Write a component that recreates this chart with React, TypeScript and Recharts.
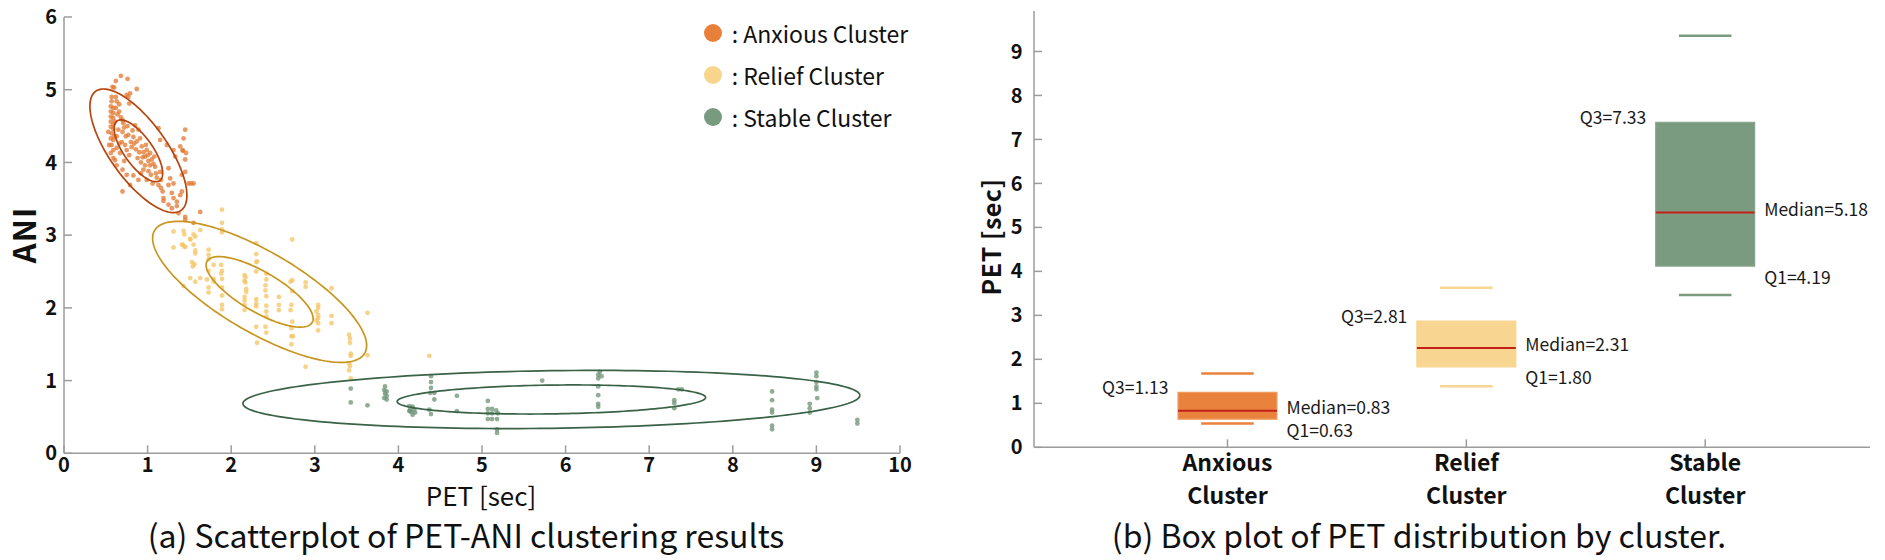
import React from "react";
import {
  ScatterChart,
  Scatter,
  XAxis,
  YAxis,
  ComposedChart,
  ReferenceArea,
  ReferenceLine,
} from "recharts";

const FONT = '"Noto Sans CJK KR", "Noto Sans", sans-serif';

// ---------- Panel (a): scatter of PET vs ANI ----------
const petTicks = [0, 1, 2, 3, 4, 5, 6, 7, 8, 9, 10];
const aniTicks = [0, 1, 2, 3, 4, 5, 6];

const clusterNames = ["Anxious Cluster", "Relief Cluster", "Stable Cluster"];

const anxiousPoints: [number, number][] = [
  [0.68, 5.19], [0.62, 5.12], [0.76, 5.15], [0.87, 5.01], [0.58, 5.04], [0.6, 5.03], [0.75, 4.93], [0.79, 4.95], [0.77, 4.9], [0.78, 4.81],
  [0.57, 4.9], [0.57, 4.84], [0.56, 4.77], [0.59, 4.75], [0.56, 4.7], [0.59, 4.68], [0.56, 4.63], [0.59, 4.61], [0.56, 4.56], [0.59, 4.52],
  [0.56, 4.49], [0.59, 4.46], [0.57, 4.4], [0.56, 4.33], [0.59, 4.31], [0.57, 4.24], [0.59, 4.17], [0.56, 4.13], [0.59, 4.06],
  [0.63, 4.84], [0.62, 4.75], [0.64, 4.66], [0.61, 4.56], [0.65, 4.45], [0.63, 4.36], [0.63, 4.2],
  [0.7, 4.58], [0.7, 4.42], [0.71, 4.54], [0.69, 4.28], [0.73, 4.24], [0.77, 4.38], [0.8, 4.28], [0.83, 4.35], [0.81, 4.21],
  [0.75, 4.17], [0.78, 4.1], [0.85, 4.51], [0.89, 4.45], [0.87, 4.29], [0.91, 4.33], [0.93, 4.22], [0.9, 4.14], [0.95, 4.14], [0.99, 4.17], [0.97, 4.08],
  [1.03, 4.13], [1.01, 4.02], [1.05, 4.04], [0.97, 3.96], [1.03, 3.96], [0.95, 3.9], [1.01, 3.88], [1.09, 3.94],
  [1.04, 3.83], [1.1, 3.85], [1.11, 3.79], [0.92, 3.85], [0.89, 3.76], [0.83, 3.82], [0.75, 3.83], [0.7, 3.9], [0.63, 3.96],
  [0.7, 3.6], [0.79, 3.69], [1.15, 3.87], [1.16, 3.76], [1.13, 3.69], [1.16, 3.65], [1.18, 3.6], [1.25, 3.92], [1.27, 3.78],
  [1.25, 3.69], [1.31, 3.71], [1.29, 3.58], [1.31, 3.51], [1.19, 3.51], [1.19, 3.47], [1.25, 3.42], [1.29, 3.37], [1.35, 3.46], [1.35, 3.4],
  [1.39, 3.55], [1.41, 3.6], [1.31, 4.17], [1.33, 4.08], [1.39, 4.22], [1.42, 4.16], [1.43, 4.33], [1.45, 4.45], [1.46, 4.13], [1.45, 4.04],
  [1.49, 3.71], [1.55, 3.71], [1.41, 3.83], [1.45, 3.87], [1.63, 3.32], [1.45, 3.25], [1.45, 3.21], [1.37, 3.3], [1.55, 3.17],
  [1.13, 4.47], [1.15, 4.31], [1.23, 4.24], [0.67, 4.13], [0.61, 4.03], [0.53, 4.42], [0.54, 4.24], [0.99, 3.76], [1.06, 3.71],
  [0.66, 4.7], [0.68, 4.62], [0.72, 4.48], [0.74, 4.36], [0.76, 4.5], [0.82, 4.44], [0.84, 4.26], [0.86, 4.18], [0.88, 4.06], [0.92, 4.0],
  [0.94, 4.07], [0.98, 4.24], [1.0, 4.1], [1.07, 3.98], [1.08, 4.08], [0.6, 4.36], [0.66, 4.26], [0.72, 4.02], [0.62, 4.9], [0.66, 4.8],
  [1.42, 4.17], [1.52, 3.71],
];

const reliefPoints: [number, number][] = [
  [1.89, 3.35], [1.89, 3.17], [1.89, 3.08], [1.89, 3.04], [1.31, 3.05], [1.43, 3.06], [1.44, 3.01], [1.55, 3.01], [1.57, 2.98], [1.63, 3.07],
  [1.31, 2.83], [1.41, 2.87], [1.44, 2.84], [1.51, 2.94], [1.55, 2.87], [1.57, 2.79], [1.57, 2.75], [1.73, 2.8], [1.73, 2.73], [1.73, 2.67],
  [1.53, 2.63], [1.56, 2.6], [1.54, 2.57], [1.79, 2.59], [1.73, 2.51], [1.88, 2.59], [1.89, 2.51], [1.88, 2.47], [1.51, 2.41], [1.57, 2.36],
  [1.63, 2.41], [1.71, 2.39], [1.79, 2.4], [1.79, 2.36], [1.73, 2.28], [1.73, 2.21], [1.43, 2.3], [1.89, 2.4], [1.89, 2.28], [1.89, 2.17],
  [1.89, 2.04], [1.89, 1.98], [2.3, 2.89], [2.3, 2.74], [2.3, 2.63], [2.3, 2.5], [2.16, 2.45], [2.17, 2.42], [2.16, 2.37], [2.17, 2.35],
  [2.18, 2.26], [2.18, 2.22], [2.16, 2.15], [2.16, 2.1], [2.16, 2.04], [2.16, 1.97], [2.42, 2.47], [2.42, 2.39], [2.41, 2.31], [2.41, 2.24],
  [2.42, 2.16], [2.3, 2.12], [2.3, 2.06], [2.3, 2.02], [2.42, 2.03], [2.42, 1.95], [2.42, 1.88], [2.3, 1.74], [2.41, 1.74], [2.42, 1.66],
  [2.31, 1.52], [2.57, 2.15], [2.57, 2.04], [2.57, 1.97], [2.73, 2.94], [2.73, 2.38], [2.71, 2.36], [2.73, 2.23], [2.72, 2.04], [2.71, 1.97],
  [2.73, 1.81], [2.72, 1.72], [2.72, 1.61], [2.74, 1.61], [2.72, 1.5], [2.89, 2.35], [2.89, 2.29], [3.04, 2.04], [3.04, 2.0], [3.02, 1.95],
  [3.04, 1.9], [3.04, 1.86], [3.02, 1.83], [3.04, 1.79], [3.04, 1.69], [3.2, 2.27], [3.2, 1.89], [3.2, 1.79], [3.63, 1.93], [3.41, 1.63],
  [3.42, 1.58], [3.42, 1.52], [3.43, 1.37], [3.43, 1.34], [3.63, 1.35], [3.41, 1.24], [3.42, 1.2], [2.89, 1.19], [3.41, 1.14], [3.43, 1.03],
  [4.37, 1.34], [1.42, 2.87], [1.45, 2.84], [1.51, 2.95], [2.31, 2.64],
];

const stablePoints: [number, number][] = [
  [3.43, 0.89], [3.43, 0.7], [3.63, 0.66], [3.84, 0.92], [3.83, 0.87], [3.86, 0.85], [3.84, 0.82], [3.86, 0.79], [3.83, 0.76], [3.86, 0.74],
  [4.39, 1.06], [4.39, 0.98], [4.39, 0.9], [4.38, 0.83], [4.43, 0.83], [4.43, 0.74], [4.37, 0.6], [4.39, 0.54],
  [4.13, 0.65], [4.17, 0.64], [4.14, 0.6], [4.19, 0.6], [4.15, 0.57], [4.2, 0.56], [4.17, 0.53], [4.13, 0.58],
  [4.7, 0.79], [4.7, 0.58], [5.07, 0.72], [5.07, 0.61], [5.12, 0.61], [5.17, 0.59], [5.19, 0.55], [5.07, 0.55], [5.12, 0.55], [5.07, 0.47], [5.12, 0.47], [5.18, 0.47],
  [5.18, 0.33], [5.18, 0.28], [5.72, 1.0],
  [6.41, 1.12], [6.39, 1.08], [6.43, 1.06], [6.39, 1.03], [6.39, 0.92], [6.39, 0.8], [6.39, 0.68], [6.39, 0.64],
  [7.35, 0.88], [7.39, 0.88], [7.3, 0.73], [7.3, 0.69], [7.3, 0.62],
  [8.47, 0.85], [8.47, 0.73], [8.47, 0.6], [8.47, 0.56], [8.47, 0.38], [8.47, 0.33],
  [9.0, 1.11], [9.0, 1.06], [9.0, 0.98], [9.0, 0.92], [9.0, 0.88], [9.01, 0.76], [8.92, 0.68], [8.92, 0.62], [8.92, 0.56], [9.49, 0.46], [9.49, 0.41],
];

// Confidence ellipses: centre, half extents along each axis, correlation
const ellipseCenterPET = [0.89, 2.34, 5.83];
const ellipseCenterANI = [4.16, 2.22, 0.74];
const ellipseHalfPET = [0.58, 1.28, 3.69];
const ellipseHalfANI = [0.85, 0.97, 0.4];
const ellipseRho = [-0.72, -0.76, 0.14];
const ellipseScales = [1, 0.5];

// ---------- Panel (b): box plot ----------
const boxCategories = ["Anxious Cluster", "Relief Cluster", "Stable Cluster"];
const boxPositions = [1, 2, 3];
const boxQ1 = [0.64, 1.83, 4.12];
const boxMedian = [0.83, 2.26, 5.34];
const boxQ3 = [1.25, 2.87, 7.39];
const whiskerLow = [0.54, 1.39, 3.46];
const whiskerHigh = [1.68, 3.63, 9.36];
const q1Labels = ["Q1=0.63", "Q1=1.80", "Q1=4.19"];
const medianLabels = ["Median=0.83", "Median=2.31", "Median=5.18"];
const q3Labels = ["Q3=1.13", "Q3=2.81", "Q3=7.33"];
const boxPetTicks = [0, 1, 2, 3, 4, 5, 6, 7, 8, 9];

// ---------- styles ----------
const pointColors = ["#E2772F", "#F4C463", "#6C9276"];
const legendColors = ["#E8803A", "#F8D48C", "#789A7F"];
const ellipseColors = ["#B6450F", "#C8961F", "#3A6246"];
const boxFill = ["#E8823C", "#F8D590", "#7B9B81"];
const boxEdge = ["#F09A5E", "#F8D590", "#86A48B"];
const MEDIAN_COLOR = "#C4201A";
const AXIS_COLOR = "#9C9C9C";
const BOX_HALF = 0.207;
const CAP_HALF = 0.11;
const ELLIPSE_STEPS = 180;

const toRows = (pts: [number, number][]) => pts.map(([x, y]) => ({ x, y }));

function ellipseOutline(i: number, s: number) {
  const r = ellipseRho[i];
  const q = Math.sqrt(1 - r * r);
  const out: { x: number; y: number }[] = [];
  for (let k = 0; k <= ELLIPSE_STEPS; k++) {
    const t = (2 * Math.PI * k) / ELLIPSE_STEPS;
    out.push({
      x: ellipseCenterPET[i] + s * ellipseHalfPET[i] * Math.cos(t),
      y: ellipseCenterANI[i] + s * ellipseHalfANI[i] * (r * Math.cos(t) + q * Math.sin(t)),
    });
  }
  return out;
}

const clusterRows = [anxiousPoints, reliefPoints, stablePoints].map(toRows);

const boxRows = boxPositions.map((p, i) => ({
  pos: p,
  q1: boxQ1[i],
  med: boxMedian[i],
  q3: boxQ3[i],
  q1Label: q1Labels[i],
  medLabel: medianLabels[i],
  q3Label: q3Labels[i],
}));

const tickStyle = { fontFamily: FONT, fontWeight: 700, fontSize: 20, fill: "#111" };
const labelStyle = { fontFamily: FONT, fontSize: 17.5, fill: "#1a1a1a" };
const LABEL_GAP = 59;

const CategoryTick = (props: any) => {
  const { x, y, payload } = props;
  const idx = boxPositions.indexOf(payload.value);
  if (idx < 0) return <g />;
  const words = boxCategories[idx].split(" ");
  return (
    <text textAnchor="middle" fontFamily={FONT} fontWeight={700} fontSize={23} fill="#111">
      <tspan x={x} y={y + 24}>{words[0]}</tspan>
      <tspan x={x} y={y + 57}>{words[1]}</tspan>
    </text>
  );
};

const abs = (left: number, top: number, extra: React.CSSProperties = {}): React.CSSProperties => ({
  position: "absolute",
  left,
  top,
  whiteSpace: "nowrap",
  lineHeight: 1,
  fontFamily: FONT,
  color: "#111",
  ...extra,
});

export default function App() {
  return (
    <div style={{ position: "absolute", left: 0, top: 0, width: 1885, height: 560, background: "#fff", overflow: "hidden", fontFamily: FONT }}>
      {/* Panel (a) */}
      <div style={{ position: "absolute", left: 0, top: 0 }}>
        <ScatterChart width={940} height={560} margin={{ top: 17, right: 40, bottom: 76.7, left: 0 }}>
          <XAxis
            type="number"
            dataKey="x"
            domain={[0, 10]}
            ticks={petTicks}
            allowDataOverflow
            height={30}
            stroke={AXIS_COLOR}
            strokeWidth={1.5}
            tickSize={-8}
            tickMargin={12}
            tick={tickStyle}
            tickLine={{ stroke: AXIS_COLOR, strokeWidth: 1.5 }}
          />
          <YAxis
            type="number"
            dataKey="y"
            domain={[0, 6]}
            ticks={aniTicks}
            allowDataOverflow
            width={64}
            stroke={AXIS_COLOR}
            strokeWidth={1.5}
            tickSize={-8}
            tickMargin={15}
            tick={tickStyle}
            tickLine={{ stroke: AXIS_COLOR, strokeWidth: 1.5 }}
          />
          {clusterRows.map((rows, i) => (
            <Scatter
              key={"pts" + i}
              name={clusterNames[i]}
              data={rows}
              isAnimationActive={false}
              shape={(p: any) => <circle cx={p.cx} cy={p.cy} r={2.4} fill={pointColors[i]} fillOpacity={0.75} />}
            />
          ))}
          {[0, 1, 2].map((i) =>
            ellipseScales.map((s, j) => (
              <Scatter
                key={"ell" + i + "-" + j}
                data={ellipseOutline(i, s)}
                isAnimationActive={false}
                line={{ stroke: ellipseColors[i], strokeWidth: 1.7 }}
                lineType="joint"
                shape={() => <g />}
              />
            ))
          )}
        </ScatterChart>
      </div>

      {/* Legend (a) */}
      {clusterNames.map((n, i) => (
        <div key={"lg" + i} style={abs(703.7, 33 + 42 * i - 12, { display: "flex", alignItems: "center", height: 24 })}>
          <span style={{ display: "inline-block", width: 18, height: 18, borderRadius: 9, background: legendColors[i] }} />
          <span style={{ fontSize: 23, marginLeft: 10 }}>: {n}</span>
        </div>
      ))}

      {/* Axis titles (a) */}
      <div style={abs(22, 235, { fontSize: 31, fontWeight: 700, letterSpacing: 1, transform: "translate(-50%, -50%) rotate(-90deg)" })}>ANI</div>
      <div style={abs(481, 495, { fontSize: 26, transform: "translate(-50%, -50%)" })}>PET [sec]</div>
      <div style={abs(466, 534, { fontSize: 32, transform: "translate(-50%, -50%)" })}>(a) Scatterplot of PET-ANI clustering results</div>

      {/* Panel (b) */}
      <div style={{ position: "absolute", left: 940, top: 0 }}>
        <ComposedChart width={945} height={560} margin={{ top: 11, right: 15, bottom: 52.7, left: 0 }}>
          <XAxis
            xAxisId={0}
            type="number"
            dataKey="pos"
            domain={[0.19, 3.69]}
            ticks={boxPositions}
            allowDataOverflow
            height={60}
            stroke={AXIS_COLOR}
            strokeWidth={1.5}
            tickSize={-8}
            tickMargin={8}
            tick={<CategoryTick />}
            tickLine={{ stroke: AXIS_COLOR, strokeWidth: 1.5 }}
          />
          <XAxis
            xAxisId="top"
            orientation="top"
            type="number"
            dataKey="pos"
            domain={[0.19, 3.69]}
            ticks={boxPositions}
            allowDataOverflow
            height={0}
            stroke={AXIS_COLOR}
            strokeWidth={1.5}
            tickSize={-8}
            tick={false}
            tickLine={{ stroke: AXIS_COLOR, strokeWidth: 1.5 }}
          />
          <YAxis
            yAxisId={0}
            type="number"
            domain={[0, 9.92]}
            ticks={boxPetTicks}
            allowDataOverflow
            width={94}
            stroke={AXIS_COLOR}
            strokeWidth={1.5}
            tickSize={-8}
            tickMargin={19.5}
            tick={tickStyle}
            tickLine={{ stroke: AXIS_COLOR, strokeWidth: 1.5 }}
          />
          <YAxis
            yAxisId="right"
            orientation="right"
            type="number"
            domain={[0, 9.92]}
            ticks={boxPetTicks}
            allowDataOverflow
            width={0}
            stroke={AXIS_COLOR}
            strokeWidth={1.5}
            tickSize={-8}
            tick={false}
            tickLine={{ stroke: AXIS_COLOR, strokeWidth: 1.5 }}
          />
          {boxPositions.map((p, i) => (
            <ReferenceArea
              key={"box" + i}
              x1={p - BOX_HALF}
              x2={p + BOX_HALF}
              y1={boxQ1[i]}
              y2={boxQ3[i]}
              fill={boxFill[i]}
              fillOpacity={1}
              stroke={boxEdge[i]}
              strokeWidth={1.2}
              ifOverflow="visible"
            />
          ))}
          {boxPositions.map((p, i) => (
            <ReferenceLine
              key={"hi" + i}
              segment={[{ x: p - CAP_HALF, y: whiskerHigh[i] }, { x: p + CAP_HALF, y: whiskerHigh[i] }]}
              stroke={boxFill[i]}
              strokeWidth={2.5}
              ifOverflow="visible"
            />
          ))}
          {boxPositions.map((p, i) => (
            <ReferenceLine
              key={"lo" + i}
              segment={[{ x: p - CAP_HALF, y: whiskerLow[i] }, { x: p + CAP_HALF, y: whiskerLow[i] }]}
              stroke={boxFill[i]}
              strokeWidth={2.5}
              ifOverflow="visible"
            />
          ))}
          {boxPositions.map((p, i) => (
            <ReferenceLine
              key={"med" + i}
              segment={[{ x: p - BOX_HALF, y: boxMedian[i] }, { x: p + BOX_HALF, y: boxMedian[i] }]}
              stroke={MEDIAN_COLOR}
              strokeWidth={2}
              ifOverflow="visible"
            />
          ))}
          <Scatter
            data={boxRows}
            dataKey="q3"
            isAnimationActive={false}
            shape={(pp: any) => (
              <text x={pp.cx - LABEL_GAP} y={pp.cy - 6} textAnchor="end" dominantBaseline="central" {...labelStyle}>
                {pp.payload.q3Label}
              </text>
            )}
          />
          <Scatter
            data={boxRows}
            dataKey="med"
            isAnimationActive={false}
            shape={(pp: any) => (
              <text x={pp.cx + LABEL_GAP} y={pp.cy - 4} textAnchor="start" dominantBaseline="central" {...labelStyle}>
                {pp.payload.medLabel}
              </text>
            )}
          />
          <Scatter
            data={boxRows}
            dataKey="q1"
            isAnimationActive={false}
            shape={(pp: any) => (
              <text x={pp.cx + LABEL_GAP} y={pp.cy + 10} textAnchor="start" dominantBaseline="central" {...labelStyle}>
                {pp.payload.q1Label}
              </text>
            )}
          />
        </ComposedChart>
      </div>

      {/* Axis titles (b) */}
      <div style={abs(990, 237, { fontSize: 25, fontWeight: 700, letterSpacing: 0.5, transform: "translate(-50%, -50%) rotate(-90deg)" })}>PET [sec]</div>
      <div style={abs(1419, 534, { fontSize: 32, transform: "translate(-50%, -50%)" })}>(b) Box plot of PET distribution by cluster.</div>
    </div>
  );
}
